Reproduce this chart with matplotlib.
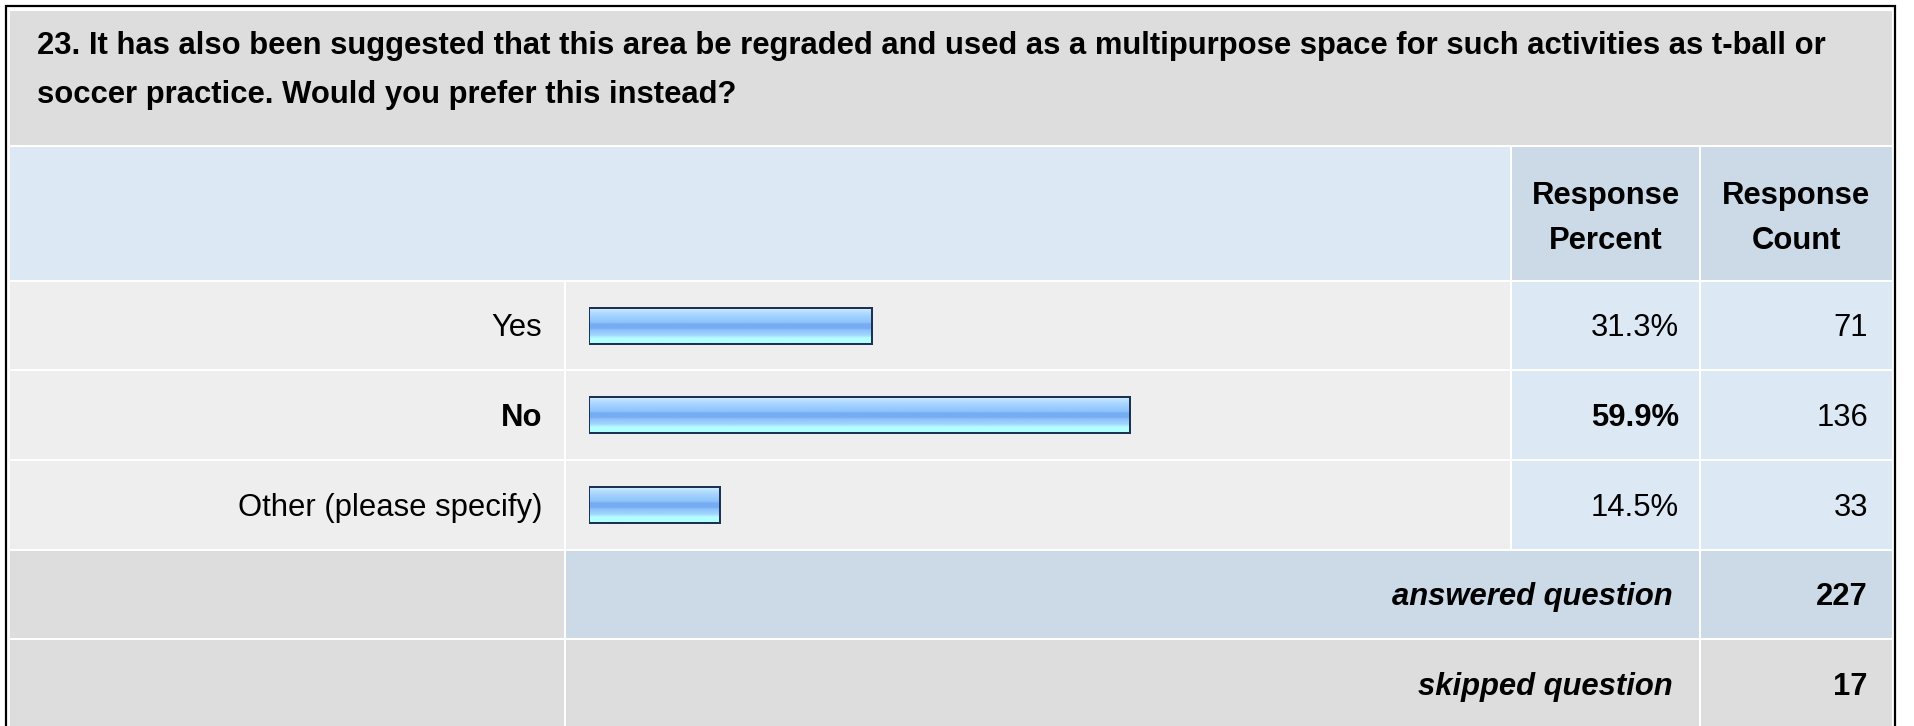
import numpy as np
import matplotlib.pyplot as plt
from matplotlib.patches import Rectangle
from matplotlib.colors import LinearSegmentedColormap

# survey results for question 23
question = ["23. It has also been suggested that this area be regraded and used as a multipurpose space for such activities as t-ball or",
            "soccer practice. Would you prefer this instead?"]
choices = ["Yes", "No", "Other (please specify)"]
percents = [31.3, 59.9, 14.5]
counts = [71, 136, 33]
answered = 227
skipped = 17

W, H = 1915, 726
FONT = "Liberation Sans"
FS = 22.3

# colours of the survey table
GRAY = "#dddddd"
LIGHT = "#eeeeee"
PALE_BLUE = "#dde8f5"
MID_BLUE = "#ccd9e6"
EDGE = "#1c3252"

fig = plt.figure(figsize=(W / 100, H / 100), dpi=100)
ax = fig.add_axes([0, 0, 1, 1])
ax.set_xlim(0, W)
ax.set_ylim(H, 0)
ax.axis("off")

# grid lines (centres of the white gaps) in pixels
col_edges = [10, 565.5, 1511, 1700.5, 1892]
row_edges = [10, 146, 281, 370, 460, 549.5, 639, 730]


def cell(c0, c1, r0, r1, color):
    x0 = col_edges[c0] + (0 if c0 == 0 else 1)
    x1 = col_edges[c1] - (0 if c1 == len(col_edges) - 1 else 1)
    y0 = row_edges[r0] + (0.5 if r0 == 0 else 1)
    y1 = row_edges[r1] - 1
    ax.add_patch(Rectangle((x0, y0), x1 - x0, y1 - y0, facecolor=color,
                           edgecolor="none", zorder=1))


def row_text_y(r):
    return (row_edges[r] + row_edges[r + 1]) / 2 + 11


# title and column header
cell(0, 4, 0, 1, GRAY)
cell(0, 2, 1, 2, PALE_BLUE)
cell(2, 3, 1, 2, MID_BLUE)
cell(3, 4, 1, 2, MID_BLUE)
# answer rows
for i in range(len(choices)):
    r = 2 + i
    cell(0, 1, r, r + 1, LIGHT)
    cell(1, 2, r, r + 1, LIGHT)
    cell(2, 3, r, r + 1, PALE_BLUE)
    cell(3, 4, r, r + 1, PALE_BLUE)
# summary rows
cell(0, 1, 5, 6, GRAY)
cell(1, 3, 5, 6, MID_BLUE)
cell(3, 4, 5, 6, MID_BLUE)
cell(0, 1, 6, 7, GRAY)
cell(1, 3, 6, 7, GRAY)
cell(3, 4, 6, 7, GRAY)

# outer frame (bottom runs off the page)
ax.plot([6, 6, 1895, 1895], [H + 5, 6, 6, H + 5], color="black",
        lw=1.6, solid_joinstyle="miter", zorder=5, clip_on=False)

# texts
ax.text(37, 54, question[0], fontsize=FS, fontweight="bold", family=FONT, va="baseline")
ax.text(37, 103, question[1], fontsize=FS, fontweight="bold", family=FONT, va="baseline")

pct_mid = (col_edges[2] + col_edges[3]) / 2
cnt_mid = (col_edges[3] + col_edges[4]) / 2
for xm, word in [(pct_mid, "Percent"), (cnt_mid, "Count")]:
    ax.text(xm, 204, "Response", fontsize=FS, fontweight="bold", family=FONT,
            ha="center", va="baseline")
    ax.text(xm, 249, word, fontsize=FS, fontweight="bold", family=FONT,
            ha="center", va="baseline")

top = np.argmax(percents)
for i, (name, p, n) in enumerate(zip(choices, percents, counts)):
    yc = row_text_y(2 + i)
    w = "bold" if i == top else "normal"
    ax.text(542, yc, name, fontsize=FS, fontweight=w, family=FONT, ha="right", va="baseline")
    ax.text(1679, yc, f"{p:.1f}%", fontsize=FS, fontweight=w, family=FONT, ha="right", va="baseline")
    ax.text(1868, yc, str(n), fontsize=FS, family=FONT, ha="right", va="baseline")

for r, label, val in [(5, "answered question", answered), (6, "skipped question", skipped)]:
    yc = row_edges[r] + 89.5 / 2 + 11
    ax.text(1673, yc, label, fontsize=FS, fontweight="bold", style="italic",
            family=FONT, ha="right", va="baseline")
    ax.text(1868, yc, str(val), fontsize=FS, fontweight="bold", family=FONT,
            ha="right", va="baseline")

# bar column: x in percent, one row per choice
bx0, bx1 = 589.0, 589.0 + 904
by0, by1 = row_edges[2], row_edges[5]
bax = fig.add_axes([bx0 / W, 1 - by1 / H, (bx1 - bx0) / W, (by1 - by0) / H])
bax.axis("off")
bax.patch.set_alpha(0)

shine = LinearSegmentedColormap.from_list("shine", [
    (0.00, "#d4ecff"), (0.12, "#b2dbff"), (0.25, "#9ecfff"), (0.40, "#8ec2fb"),
    (0.44, "#76acf2"), (0.56, "#76acf2"), (0.62, "#8ec3fb"), (0.76, "#a2d6ff"),
    (0.84, "#b4ffff"), (1.00, "#b4ffff")])
grad = np.linspace(0, 1, 64).reshape(-1, 1)
bh = 36 / ((by1 - by0) / len(choices))
for i, p in enumerate(percents):
    bax.imshow(grad, cmap=shine, aspect="auto", interpolation="bilinear",
               extent=(0, p, i + bh / 2, i - bh / 2), zorder=2)
bax.barh(range(len(choices)), percents, height=bh, left=0, facecolor="none",
         edgecolor=EDGE, linewidth=1.44, zorder=3)
bax.set_xlim(0, 100)
bax.set_ylim(len(choices) - 0.5, -0.5)

fig.savefig("out.png", dpi=100)
